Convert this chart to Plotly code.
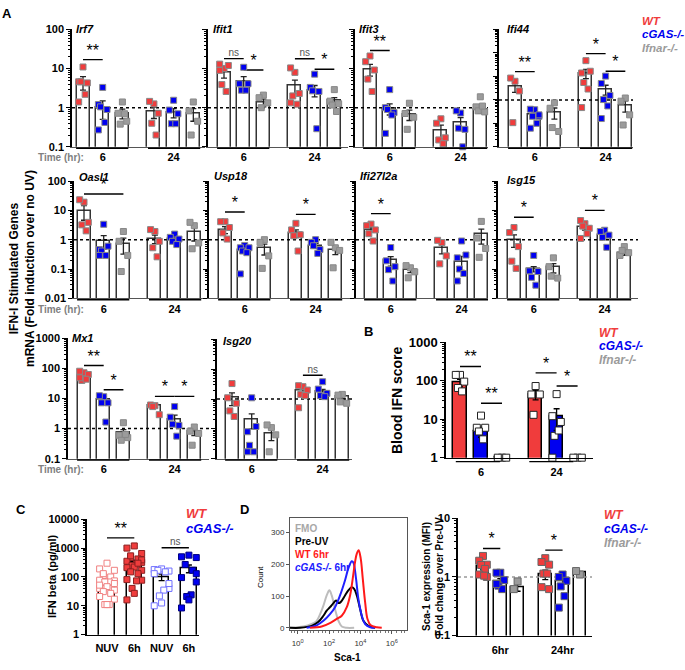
import plotly.graph_objects as go

W, H = 685, 670
FONT = "Liberation Sans"
RED, BLUE, GREY = "#f03c3c", "#0000f0", "#9b9b9b"
COLS = [RED, BLUE, GREY, RED, BLUE, GREY]

# groups: WT, cGAS-/-, Ifnar-/- at 6 hr, then at 24 hr
time_labels = ["6", "24"]

# Panel A - ISG mRNA, fold over no UV
irf7_mean = [4.5, 1.0, 0.72, 0.78, 0.75, 0.7]
irf7_sem = [1.7, 0.5, 0.2, 0.25, 0.2, 0.25]
irf7_pts = [[11, 4.6, 4.3, 4.6, 2.2, 1.4], [3.3, 1.2, 0.9, 1.05, 0.42, 0.27], [1.4, 0.72, 0.45, 0.38, 0.7],
            [1.25, 1.45, 0.72, 0.4, 0.2], [1.55, 0.87, 0.7, 0.39, 0.39], [1.4, 0.83, 0.45, 0.2]]
irf7_sig = [(0, 1, 17, "**")]

ifit1_mean = [8.0, 4.6, 1.35, 3.7, 2.8, 1.5]
ifit1_sem = [2.3, 1.6, 0.3, 1.4, 0.9, 0.3]
ifit1_pts = [[10, 13, 12, 3.9, 2.6, 9], [10.8, 4.1, 4.1, 2.8, 2.8], [2.1, 1.8, 1.33, 1.0],
             [8, 10.4, 2.3, 2.0, 1.23, 1.33], [7.2, 3.3, 2.6, 2.7, 0.29], [2.9, 1.47, 1.26, 1.17, 0.8]]
ifit1_sig = [(0, 1, 18, "ns"), (1, 2, 9.2, "*"), (3, 4, 17.8, "ns"), (4, 5, 9.6, "*")]

ifit3_mean = [9.6, 0.95, 0.67, 0.26, 0.41, 0.88]
ifit3_sem = [3.2, 0.3, 0.2, 0.1, 0.15, 0.15]
ifit3_pts = [[21, 15, 9.2, 5.4, 2.6], [2.9, 1.0, 0.75, 0.9, 0.65, 0.22], [1.3, 0.71, 0.57, 0.28],
             [0.52, 0.4, 0.17, 0.15, 0.12], [0.73, 0.83, 0.28, 0.3, 0.1], [1.9, 1.05, 0.78, 0.83, 1.1]]
ifit3_sig = [(0, 1, 29, "**")]

ifi44_mean = [3.6, 0.25, 0.3, 14, 2.9, 0.6]
ifi44_sem = [1.5, 0.06, 0.15, 6, 1.3, 0.3]
ifi44_pts = [[6.2, 8.5, 2.4, 0.107], [0.38, 0.4, 0.2, 0.2, 0.1, 0.062, 0.23], [0.75, 0.44, 0.045, 0.066],
             [47, 14, 16.6, 5.5, 2.9, 0.47], [10.3, 5, 1.55, 1.03, 0.55, 0.16], [1.2, 0.88, 0.23, 0.085]]
ifi44_sig = [(0, 1, 16, "**"), (3, 4, 94, "*"), (4, 5, 16.6, "*")]

oasl1_mean = [9.6, 0.93, 0.72, 1.08, 1.05, 1.8]
oasl1_sem = [5, 0.45, 0.4, 0.35, 0.2, 0.9]
oasl1_pts = [[19, 23, 3.9, 3.2, 2.0], [3.35, 0.46, 0.6, 0.41, 0.29, 0.29], [1.9, 0.88, 0.29, 0.082],
             [1.9, 2.2, 0.88, 0.53, 0.26], [1.55, 1.2, 1.05, 0.88, 0.68], [3.0, 3.9, 0.77, 0.49]]
oasl1_sig = [(0, 2, 36, "*")]

usp18_mean = [2.2, 0.44, 0.5, 1.67, 0.63, 0.46]
usp18_sem = [0.6, 0.08, 0.2, 0.5, 0.12, 0.15]
usp18_pts = [[4.1, 4.1, 2.6, 1.7, 1.05], [0.63, 0.53, 0.53, 0.41, 0.36, 0.068], [1.0, 0.81, 0.28, 0.105],
             [3.6, 2.15, 1.47, 1.36, 0.41], [1.0, 0.81, 0.46, 0.62, 0.34], [0.53, 0.81, 0.43, 0.11]]
usp18_sig = [(0, 1, 8.8, "*"), (3, 4, 7.3, "*")]

ifi27l2a_mean = [2.2, 0.195, 0.09, 0.53, 0.18, 1.5]
ifi27l2a_sem = [0.35, 0.07, 0.015, 0.2, 0.09, 0.8]
ifi27l2a_pts = [[3.4, 3.0, 2.15, 1.6, 0.9], [0.54, 0.19, 0.12, 0.095, 0.039], [0.11, 0.13, 0.08, 0.05],
                [0.8, 0.95, 0.28, 0.15], [0.9, 0.24, 0.3, 0.1, 0.07, 0.039], [4.2, 1.14, 0.5, 0.25]]
ifi27l2a_sig = [(0, 1, 7.7, "*")]

isg15_mean = [1.0, 0.1, 0.113, 2.6, 1.43, 0.36]
isg15_sem = [0.45, 0.02, 0.04, 0.5, 0.25, 0.07]
isg15_pts = [[2.6, 1.75, 0.58, 0.185, 0.105], [0.29, 0.086, 0.082, 0.052, 0.028], [0.24, 0.12, 0.049, 0.057],
             [3.5, 4.5, 2.45, 2.9, 1.6, 1.1], [2.1, 1.9, 1.43, 1.2, 0.55], [0.58, 0.29, 0.36, 0.43]]
isg15_sig = [(0, 1, 5.8, "*"), (3, 4, 10, "*")]

mx1_mean = [59, 9.6, 0.72, 5.8, 2.0, 0.78]
mx1_sem = [8, 2, 0.2, 0.8, 0.8, 0.2]
mx1_pts = [[72, 81, 63, 40, 44, 49], [11.5, 12.4, 7.2, 7.2, 1.65], [1.57, 0.6, 0.5, 0.41, 0.64],
           [5.8, 6.1, 2.9, 5.4], [5.4, 2.4, 1.28, 1.4, 0.56], [1.13, 0.82, 0.69, 0.28]]
mx1_sig = [(0, 1, 125, "**"), (1, 2, 19.5, "*"), (3, 4, 11.8, "*"), (4, 5, 11.8, "*")]

isg20_mean = [1.1, 0.21, 0.07, 2.0, 1.75, 1.2]
isg20_sem = [0.5, 0.11, 0.03, 0.4, 0.35, 0.2]
isg20_pts = [[3.3, 1.1, 0.72, 0.4, 0.26], [1.1, 0.08, 0.12, 0.028, 0.017, 0.017], [0.11, 0.135, 0.063, 0.017],
             [2.6, 2.8, 2.0, 1.43, 1.3, 0.51], [3.8, 2.15, 1.55, 1.3, 1.2], [1.43, 1.35, 0.72, 0.8]]
isg20_sig = [(3, 4, 6.3, "ns")]

# Panel B - blood IFN score
b_mean = [89, 4.8, 1, 44, 11.9, 1]
b_sem = [20, 1.4, 0, 12, 6.8, 0]
b_pts = [[142, 142, 95, 65, 53], [12.4, 6, 6, 4.8, 3.0], [1, 1, 1],
         [73, 44, 44, 13], [45, 12, 8.5, 3.7, 5.1, 1.0], [1, 1, 1]]
b_sig = [(0, 1, 236, "**"), (1, 2, 26, "**"), (3, 4, 160, "*"), (4, 5, 73, "*")]

# Panel C - IFN beta (pg/ml)
c_labels = ["NUV", "6h", "NUV", "6h"]
c_mean = [52, 320, 100, 200]
c_sem = [14, 60, 25, 60]
c_wt_nuv = [300, 190, 170, 113, 100, 77, 73, 67, 67, 46, 40, 35, 31, 27, 21, 17, 11, 11, 11, 52, 59, 130]
c_wt_6h = [1190, 1000, 650, 470, 420, 350, 320, 280, 250, 220, 210, 170, 150, 130, 81, 77, 73, 40, 27, 16,
           390, 540, 300]
c_cgas_nuv = [190, 180, 160, 170, 150, 130, 40, 35, 22, 12.5, 10, 59]
c_cgas_6h = [570, 500, 470, 270, 170, 95, 67, 24, 21, 16, 8.4, 130]
c_sig = [(0, 1, 2270, "**"), (2, 3, 1030, "ns")]

# Panel D - Sca-1 histogram (x in decades of fluorescence) and MFI fold change
fmo_x = [-0.5, 0.36, 0.89, 1.21, 1.43, 1.64, 1.85, 2.02, 2.17, 2.38, 2.6, 2.81, 3.13, 3.6]
fmo_y = [0, 4, 12, 22, 43, 70, 102, 118, 102, 59, 22, 4, 0, 0]
pre_x = [-0.5, 0.15, 0.89, 1.32, 1.64, 1.85, 2.06, 2.28, 2.45, 2.6, 2.74, 3.02, 3.23, 3.45, 3.6, 3.77, 3.98,
         4.19, 4.51, 4.94]
pre_y = [0, 0, 6, 19, 38, 54, 65, 78, 86, 78, 81, 102, 118, 128, 123, 102, 59, 22, 6, 0]
wt6_x = [0.79, 1.53, 2.06, 2.49, 2.81, 3.13, 3.34, 3.51, 3.66, 3.77, 3.89, 4.02, 4.15, 4.3, 4.45, 4.66, 5.04,
         5.36]
wt6_y = [0, 4, 15, 28, 38, 65, 102, 155, 208, 234, 244, 218, 155, 81, 28, 8, 2, 0]
cg6_x = [0.57, 1.21, 1.64, 2.06, 2.38, 2.7, 3.02, 3.23, 3.45, 3.55, 3.72, 3.87, 4.09, 4.3, 4.62, 4.94]
cg6_y = [0, 8, 22, 43, 65, 102, 150, 187, 210, 206, 155, 91, 38, 12, 2, 0]

d_labels = ["6hr", "24hr"]
d_mean = [1.52, 0.86, 0.67, 1.1, 0.86, 1.18]
d_sem = [0.2, 0.08, 0.1, 0.2, 0.1, 0.05]
d_pts = [[2.28, 1.89, 1.62, 1.6, 1.37, 1.1, 1.0, 1.05], [1.18, 1.18, 0.88, 0.71, 0.62, 0.76], [0.84, 0.62],
         [2.09, 1.8, 1.62, 1.14, 1.14, 0.67, 0.62], [1.1, 1.0, 0.86, 0.69, 0.47, 0.3], [1.1, 1.26]]
d_sig = [(0, 1, 3.06, "*"), (3, 4, 2.87, "*")]

X6 = [0, 1, 2, 3.6, 4.6, 5.6]

fig = go.Figure()
axes = {}
shapes = []
annots = []


def ann(x, y, text, size=11, color="black", angle=0, xanchor="center"):
    annots.append(dict(x=x / W, y=1 - y / H, xref="paper", yref="paper", text=text, showarrow=False,
                       textangle=angle, xanchor=xanchor, yanchor="middle",
                       font=dict(family=FONT, size=size, color=color)))


def jit(n, spread):
    pat = [0, -1, 1, -0.5, 0.5, -1, 1, 0.3, -0.3]
    return [pat[i % len(pat)] * spread for i in range(n)]


def add_axes(n, box, xr, yr, ylabels=True, xticks=None, xtext=None, yfs=11, xfs=11, xline="#555", stand=0):
    x0, x1, yt, yb = box
    s = "" if n == 1 else str(n)
    lo, hi = yr
    vals = [10 ** k for k in range(lo, hi + 1)]
    minor = [m * 10 ** k for k in range(lo, hi) for m in range(2, 10)]
    axes["xaxis" + s] = dict(domain=[x0 / W, x1 / W], range=xr, anchor="y" + s, showgrid=False, zeroline=False,
                            showline=True, linecolor=xline, linewidth=1, tickvals=xticks, ticktext=xtext,
                            ticks="", ticklabelstandoff=stand,
                            tickfont=dict(family=FONT, size=xfs, color="black", weight="bold"))
    axes["yaxis" + s] = dict(domain=[1 - yb / H, 1 - yt / H], anchor="x" + s, type="log", range=[lo, hi],
                            showgrid=False, zeroline=False, showline=True, linecolor="black", linewidth=1.5,
                            ticks="outside", ticklen=4, tickwidth=1.3, tickcolor="black",
                            tickvals=vals, ticktext=["%g" % v for v in vals], showticklabels=ylabels,
                            tickfont=dict(family=FONT, size=yfs, color="black", weight="bold"),
                            minor=dict(tickvals=minor, ticks="outside", ticklen=2, tickcolor="black", tickwidth=1))
    return "x" + s, "y" + s


def add_sig(xa, ya, pos, sig):
    for i, j, v, lab in sig:
        fig.add_trace(go.Scatter(x=[pos[i], pos[j]], y=[v, v], mode="lines", line=dict(color="black", width=1.4),
                                 xaxis=xa, yaxis=ya, cliponaxis=False, hoverinfo="skip"))
        ns = lab == "ns"
        fig.add_trace(go.Scatter(x=[(pos[i] + pos[j]) / 2], y=[v], mode="text", text=[lab],
                                 textposition="top center", cliponaxis=False, xaxis=xa, yaxis=ya,
                                 textfont=dict(family=FONT, size=10 if ns else 16, color="#555" if ns else "black")))


def add_points(xa, ya, pos, pts, fills, lines, size=6, spread=0.22):
    for k, vals in enumerate(pts):
        fig.add_trace(go.Scatter(x=[pos[k] + d for d in jit(len(vals), spread)], y=vals, mode="markers",
                                 marker=dict(symbol="square", size=size, color=fills[k],
                                             line=dict(color=lines[k], width=1)),
                                 xaxis=xa, yaxis=ya, cliponaxis=False))


# Panel A
genes = [
    ("Irf7", irf7_mean, irf7_sem, irf7_pts, irf7_sig, (-1, 2)),
    ("Ifit1", ifit1_mean, ifit1_sem, ifit1_pts, ifit1_sig, (-1, 2)),
    ("Ifit3", ifit3_mean, ifit3_sem, ifit3_pts, ifit3_sig, (-1, 2)),
    ("Ifi44", ifi44_mean, ifi44_sem, ifi44_pts, ifi44_sig, (-2, 3)),
    ("Oasl1", oasl1_mean, oasl1_sem, oasl1_pts, oasl1_sig, (-2, 2)),
    ("Usp18", usp18_mean, usp18_sem, usp18_pts, usp18_sig, (-2, 2)),
    ("Ifi27l2a", ifi27l2a_mean, ifi27l2a_sem, ifi27l2a_pts, ifi27l2a_sig, (-2, 2)),
    ("Isg15", isg15_mean, isg15_sem, isg15_pts, isg15_sig, (-2, 2)),
    ("Mx1", mx1_mean, mx1_sem, mx1_pts, mx1_sig, (-1, 3)),
    ("Isg20", isg20_mean, isg20_sem, isg20_pts, isg20_sig, (-2, 2)),
]
# axis x, first bar x, axis end x, top y, bottom y (pixels)
frames = [(72, 83, 205, 23, 143), (208, 224, 348, 23, 143), (355, 370, 488, 23, 143), (499, 515, 633, 23, 143),
          (74, 84, 205, 178, 298), (209, 225, 350, 178, 298), (356, 371, 488, 178, 298), (498, 514, 638, 178, 298),
          (68, 84, 209, 339, 462), (217, 232, 352, 340, 462)]
title_pos = [(74, 22), (211, 22), (357, 22), (505, 22), (77, 174), (212, 173), (358, 173), (505, 177),
             (70, 339), (221, 342)]
SP = 19.7
for n, ((name, mean, sem, pts, sig, yr), (ax0, fb, ax1, yt, yb)) in enumerate(zip(genes, frames), start=1):
    xr = [(ax0 - fb) / SP, (ax1 - fb) / SP]
    xa, ya = add_axes(n, (ax0, ax1, yt, yb), xr, yr, ylabels=n in (1, 5, 9),
                      xticks=[1, 4.6], xtext=time_labels)
    fig.add_trace(go.Bar(x=X6, y=mean, width=0.66, xaxis=xa, yaxis=ya,
                         marker=dict(color="white", line=dict(color="#333", width=1.5)),
                         error_y=dict(type="data", array=sem, color="#222", thickness=1.3, width=3)))
    fig.add_trace(go.Scatter(x=xr, y=[1, 1], mode="lines", line=dict(color="black", width=1.5, dash="dot"),
                             xaxis=xa, yaxis=ya, hoverinfo="skip"))
    add_sig(xa, ya, X6, sig)
    add_points(xa, ya, X6, pts, COLS, ["#888"] * 6)
    for g0, g1 in [(-0.35, 2.3), (3.3, 5.95)]:
        shapes.append(dict(type="line", xref=xa, yref="paper", x0=g0, x1=g1, y0=1 - (yb + 1.5) / H,
                           y1=1 - (yb + 1.5) / H, line=dict(color="black", width=1.5)))
    tx, ty = title_pos[n - 1]
    ann(tx, ty, "<b><i>%s</i></b>" % name, size=11, xanchor="left")

for ty in [154, 309, 473]:
    ann(61, ty, "<b>Time (hr):</b>", size=10, color="#808080")

ann(22, 268, "<b>IFN-I Stimulated Genes<br>mRNA (Fold induction over no UV)</b>", size=12, angle=-90)
ann(640, 14, "<b><i>WT</i></b>", 11.5, RED, xanchor="left")
ann(640, 28, "<b><i>cGAS-/-</i></b>", 11.5, BLUE, xanchor="left")
ann(640, 42, "<b><i>Ifnar-/-</i></b>", 11.5, GREY, xanchor="left")

# Panel B
SB = 21
xa, ya = add_axes(11, (446, 593, 343, 461), [-14 / SB, 133 / SB], (0, 3), xticks=[1, 4.6], xtext=time_labels,
                  yfs=13, xline="black", stand=4)
fig.add_trace(go.Bar(x=X6, y=b_mean, width=0.63, xaxis=xa, yaxis=ya,
                     marker=dict(color=COLS, line=dict(color="black", width=1.5)),
                     error_y=dict(type="data", array=b_sem, color="black", thickness=1.3, width=3)))
add_sig(xa, ya, X6, b_sig)
add_points(xa, ya, X6, b_pts, ["white"] * 6, ["#222"] * 6, size=7, spread=0.2)
for g0, g1 in [(-0.2, 1.9), (3.3, 5.4)]:
    shapes.append(dict(type="line", xref=xa, yref="paper", x0=g0, x1=g1, y0=1 - 465 / H, y1=1 - 465 / H,
                       line=dict(color="black", width=1.2)))
ann(397, 402, "<b>Blood IFN score</b>", size=14, angle=-90)
ann(597, 333, "<b><i>WT</i></b>", 12, RED, xanchor="left")
ann(597, 347, "<b><i>cGAS-/-</i></b>", 12, BLUE, xanchor="left")
ann(597, 361, "<b><i>Ifnar-/-</i></b>", 12, GREY, xanchor="left")

# Panel C
SC = 27.3
xa, ya = add_axes(12, (87, 199, 524, 642), [-20 / SC, 92 / SC], (0, 4), xticks=[0, 1, 2, 3], xtext=c_labels,
                  xline="black", stand=3)
fig.add_trace(go.Bar(x=[0, 1, 2, 3], y=c_mean, width=0.56, xaxis=xa, yaxis=ya,
                     marker=dict(color="white", line=dict(color="black", width=1.5)),
                     error_y=dict(type="data", array=c_sem, color="black", thickness=1.3, width=3)))
add_sig(xa, ya, [0, 1, 2, 3], c_sig)
add_points(xa, ya, [0, 1, 2, 3], [c_wt_nuv, c_wt_6h, c_cgas_nuv, c_cgas_6h],
           ["white", RED, "white", BLUE], ["#f08080", "#8a2020", "#7070ff", "#000080"], size=6, spread=0.27)
ann(52, 583, "<b>IFN beta (pg/ml)</b>", size=11, angle=-90)
ann(184, 518, "<b><i>WT</i></b>", 13, RED, xanchor="left")
ann(184, 533, "<b><i>cGAS-/-</i></b>", 13, BLUE, xanchor="left")

# Panel D histogram
axes["xaxis13"] = dict(domain=[290 / W, 407 / W], range=[-0.49, 6.97], anchor="y13", showgrid=False,
                       zeroline=False, showline=True, mirror=True, linecolor="#555", linewidth=1,
                       tickvals=[0, 2, 4, 6], ticktext=["10<sup>%d</sup>" % k for k in (0, 2, 4, 6)],
                       ticks="outside", ticklen=3, tickcolor="#555", ticklabelstandoff=3,
                       tickfont=dict(family=FONT, size=8, color="#333"),
                       minor=dict(tickvals=[k + m for k in range(-1, 7) for m in (0.3, 0.6, 0.8, 1.0)],
                                  ticks="outside", ticklen=2, tickcolor="#777"))
axes["yaxis13"] = dict(domain=[1 - 637 / H, 1 - 523 / H], range=[-6, 345], anchor="x13", showgrid=False,
                       zeroline=False, showline=True, mirror=True, linecolor="#555", linewidth=1,
                       tickvals=[0, 100, 200, 300], ticks="outside", ticklen=3, tickcolor="#555",
                       tickfont=dict(family=FONT, size=8, color="#333"))
for hx, hy, col in [(fmo_x, fmo_y, "#bdbdbd"), (pre_x, pre_y, "black"), (cg6_x, cg6_y, "#2020ff"),
                    (wt6_x, wt6_y, "#ff1a1a")]:
    fig.add_trace(go.Scatter(x=hx, y=hy, mode="lines", line=dict(color=col, width=2, shape="spline"),
                             xaxis="x13", yaxis="y13"))
ann(293, 533, "<b>FMO</b>", 10, "#a8a8a8", xanchor="left")
ann(293, 547, "<b>Pre-UV</b>", 10, "black", xanchor="left")
ann(293, 560, "<b>WT 6hr</b>", 10, "#ff1a1a", xanchor="left")
ann(293, 573, "<b><i>cGAS-/-</i> 6hr</b>", 10, "#2020ff", xanchor="left")
ann(261, 583, "Count", 8, "black", angle=-90)
ann(348, 665, "<b>Sca-1</b>", 10)

# Panel D MFI
SD = 17.3
xa, ya = add_axes(14, (458, 592, 523, 643), [-25 / SD, 109 / SD], (-1, 1), xticks=[1, 4.6], xtext=d_labels,
                  xline="black", stand=4)
fig.add_trace(go.Bar(x=X6, y=d_mean, width=0.72, xaxis=xa, yaxis=ya,
                     marker=dict(color="white", line=dict(color="black", width=1.5)),
                     error_y=dict(type="data", array=d_sem, color="black", thickness=1.3, width=3)))
fig.add_trace(go.Scatter(x=[-25 / SD, 109 / SD], y=[1, 1], mode="lines",
                         line=dict(color="#999", width=1.5, dash="dot"), xaxis=xa, yaxis=ya))
add_sig(xa, ya, X6, d_sig)
add_points(xa, ya, X6, d_pts, COLS, ["#666"] * 6, size=7, spread=0.22)
ann(433, 583, "<b>Sca-1 expression (MFI)<br>Fold change over Pre-UV</b>", size=10, angle=-90)
ann(602, 520, "<b><i>WT</i></b>", 12, RED, xanchor="left")
ann(602, 534, "<b><i>cGAS-/-</i></b>", 12, BLUE, xanchor="left")
ann(602, 548, "<b><i>Ifnar-/-</i></b>", 12, GREY, xanchor="left")

# panel letters
for letter, lx, ly in [("A", 7, 7), ("B", 368, 332), ("C", 21, 514), ("D", 244, 514)]:
    ann(lx, ly, "<b>%s</b>" % letter, 13)

fig.update_layout(width=W, height=H, margin=dict(l=0, r=0, t=0, b=0), showlegend=False,
                  paper_bgcolor="white", plot_bgcolor="rgba(0,0,0,0)", bargap=0,
                  font=dict(family=FONT), shapes=shapes, annotations=annots, **axes)
fig.write_html("out.html", config={"displayModeBar": False},
               post_script="document.body.style.margin='0px';")
